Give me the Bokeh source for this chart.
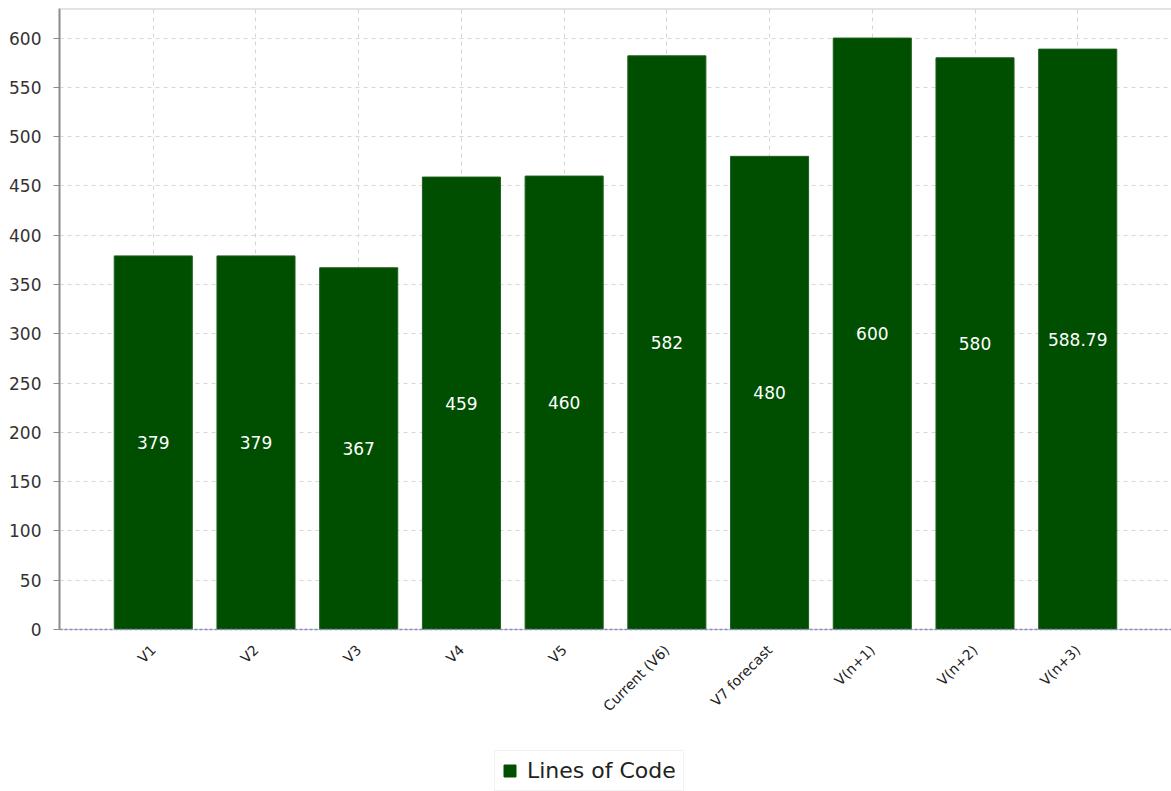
from bokeh.plotting import figure
from bokeh.layouts import column
from bokeh.models import ColumnDataSource, FactorRange, FixedTicker, Legend, LegendItem, Range1d, Span
from bokeh.embed import file_html
from bokeh.resources import INLINE
from bokeh.core.properties import value
import math

categories = ["V1", "V2", "V3", "V4", "V5", "Current (V6)", "V7 forecast", "V(n+1)", "V(n+2)", "V(n+3)"]
lines_of_code = [379, 379, 367, 459, 460, 582, 480, 600, 580, 588.79]
label_texts = ["379", "379", "367", "459", "460", "582", "480", "600", "580", "588.79"]
y_ticks = [0, 50, 100, 150, 200, 250, 300, 350, 400, 450, 500, 550, 600]
series_name = "Lines of Code"

src = ColumnDataSource(dict(
    cat=categories,
    val=lines_of_code,
    mid=[v / 2 for v in lines_of_code],
    lab=label_texts,
))

FONT = "DejaVu Sans"
GREEN = "#004f00"

p = figure(
    x_range=FactorRange(factors=categories, range_padding=0.413, range_padding_units="absolute"),
    y_range=Range1d(0, 630),
    width=1171, height=745,
    output_backend="svg", toolbar_location=None,
    min_border_left=59, min_border_top=8, min_border_right=0, min_border_bottom=116,
)
p.background_fill_color = "white"
p.outline_line_color = None

r = p.vbar(x="cat", top="val", width=0.76, source=src, fill_color=GREEN, line_color="#1f5f1f", line_width=1)
p.text(x="cat", y="mid", text="lab", source=src, text_color="white", text_align="center",
       text_baseline="middle", text_font=value(FONT), text_font_size="17px")

# grids
p.xgrid.grid_line_color = "#d6d6d6"
p.xgrid.grid_line_dash = "4 4"
p.ygrid.grid_line_color = "#d6d6d6"
p.ygrid.grid_line_dash = "4 4"

# top border
p.add_layout(Span(location=630, dimension="width", line_color="#c8c8c8", line_width=2))

# y axis
p.yaxis.ticker = FixedTicker(ticks=y_ticks)
p.yaxis.axis_line_color = "#8c8c8c"
p.yaxis.axis_line_width = 2
p.yaxis.major_tick_line_color = "#8c8c8c"
p.yaxis.major_tick_out = 6
p.yaxis.major_tick_in = 0
p.yaxis.minor_tick_line_color = None
p.yaxis.major_label_text_font = FONT
p.yaxis.major_label_text_font_size = "17px"
p.yaxis.major_label_text_color = "#333333"
p.yaxis.major_label_standoff = 12

# x axis
p.xaxis.axis_line_color = "#8080d0"
p.xaxis.axis_line_dash = "3 2"
p.xaxis.axis_line_width = 1.5
p.xaxis.major_tick_line_color = None
p.xaxis.minor_tick_line_color = None
p.xaxis.major_label_orientation = math.pi / 4
p.xaxis.major_label_text_font = FONT
p.xaxis.major_label_text_font_size = "14px"
p.xaxis.major_label_text_color = "#222222"
p.xaxis.major_label_standoff = 12

p.add_layout(Span(location=0, dimension="width", line_color="#9a9a9a", line_width=1))

# legend strip (renderer hidden; only its legend swatch is shown)
p2 = figure(
    width=1171, height=46, x_range=FactorRange(factors=categories), y_range=Range1d(0, 1),
    output_backend="svg", toolbar_location=None,
    min_border=0, min_border_left=0, min_border_right=0, min_border_top=0, min_border_bottom=0,
)
p2.axis.visible = False
p2.grid.visible = False
p2.outline_line_color = None
r2 = p2.vbar(x="cat", top="val", width=0.76, source=src, fill_color=GREEN, line_color=GREEN)
r2.visible = False
legend = Legend(items=[LegendItem(label=series_name, renderers=[r2])], location=(435, 0),
                orientation="horizontal")
legend.label_text_font = FONT
legend.label_text_font_size = "22px"
legend.label_text_color = "#222222"
legend.glyph_width = 15
legend.glyph_height = 15
legend.border_line_color = "#e6e6e6"
legend.inactive_fill_alpha = 0
legend.padding = 7
legend.margin = 0
legend.spacing = 4
legend.label_standoff = 10
p2.add_layout(legend, "center")

layout = column(p, p2, spacing=0)
open("out.html", "w").write(file_html(layout, INLINE))
